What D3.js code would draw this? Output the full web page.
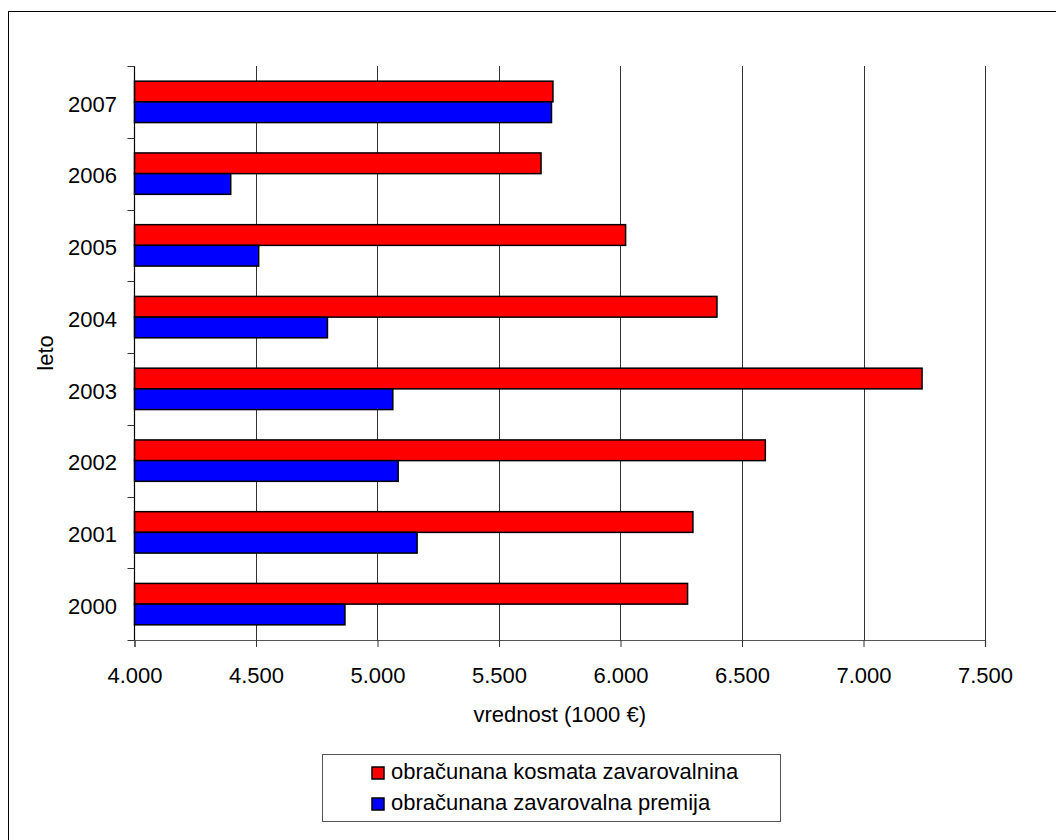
<!DOCTYPE html>
<html>
<head>
<meta charset="utf-8">
<script src="https://cdn.jsdelivr.net/npm/d3@7"></script>
<style>
  html, body { margin: 0; padding: 0; background: #fff; }
  svg { display: block; }
  text { font-family: "Liberation Sans", Arial, sans-serif; fill: #000; }
</style>
</head>
<body>
<svg id="chart" width="1056" height="840"></svg>
<script>
// ---- data ----
const years = ["2000", "2001", "2002", "2003", "2004", "2005", "2006", "2007"];
const seriesNames = ["obračunana kosmata zavarovalnina", "obračunana zavarovalna premija"];
const seriesColors = ["#ff0000", "#0000ff"];
const kosmata = [6276, 6298, 6596, 7241, 6397, 6021, 5673, 5722];
const premija = [4866, 5163, 5085, 5063, 4794, 4511, 4396, 5716];
const xTicks = [4000, 4500, 5000, 5500, 6000, 6500, 7000, 7500];
const xTitle = "vrednost (1000 €)";
const yTitle = "leto";

// ---- layout ----
const svg = d3.select("#chart");
const pLeft = 134.5, pRight = 985, pTop = 66, pBottom = 640;

const locale = d3.formatLocale({decimal: ",", thousands: ".", grouping: [3], currency: ["", "€"]});
const fmt = locale.format(",d");

const x = d3.scaleLinear().domain([4000, 7500]).range([pLeft, pRight]);
const y0 = d3.scaleBand().domain(years.slice().reverse()).range([pTop, pBottom]).paddingInner(0).paddingOuter(0);
const y1 = d3.scaleBand().domain([0, 1]).range([0, y0.bandwidth()]).paddingInner(0).paddingOuter(0.733);

const values = [kosmata, premija];

// outer frame
svg.append("rect")
  .attr("x", 8.5).attr("y", 11.5)
  .attr("width", 1100).attr("height", 900)
  .attr("fill", "#fff").attr("stroke", "#000").attr("stroke-width", 1);

// gridlines
svg.append("g").selectAll("line")
  .data(xTicks.slice(1))
  .join("line")
  .attr("x1", d => Math.round(x(d)) + 0.5)
  .attr("x2", d => Math.round(x(d)) + 0.5)
  .attr("y1", pTop).attr("y2", pBottom)
  .attr("stroke", "#333").attr("stroke-width", 1);

// bars
const groups = svg.append("g").selectAll("g")
  .data(years)
  .join("g")
  .attr("transform", d => `translate(0,${y0(d)})`);

groups.selectAll("rect")
  .data((d, i) => values.map((s, k) => ({k, v: s[i]})))
  .join("rect")
  .attr("x", x(4000))
  .attr("y", d => y1(d.k))
  .attr("width", d => x(d.v) - x(4000))
  .attr("height", y1.bandwidth())
  .attr("fill", d => seriesColors[d.k])
  .attr("stroke", "#000")
  .attr("stroke-width", 1.5);

// x axis
const xAxis = d3.axisBottom(x).tickValues(xTicks).tickFormat(fmt).tickSize(7).tickPadding(20);
const gx = svg.append("g").attr("transform", `translate(0,${pBottom})`).call(xAxis);
gx.select(".domain").attr("stroke", "#555").attr("stroke-width", 1.2);
gx.selectAll(".tick line").attr("stroke", "#333");
gx.selectAll(".tick text").style("font-size", "22px").style("font-family", "Liberation Sans, Arial, sans-serif").attr("fill", "#000");

// y axis: ticks at band boundaries
const gy = svg.append("g");
gy.append("line")
  .attr("x1", pLeft).attr("x2", pLeft)
  .attr("y1", pTop).attr("y2", pBottom)
  .attr("stroke", "#000").attr("stroke-width", 1.2);
const boundaries = years.map(d => y0(d)).concat([pBottom]);
gy.selectAll("line.tk")
  .data(boundaries)
  .join("line").attr("class", "tk")
  .attr("x1", pLeft - 7).attr("x2", pLeft)
  .attr("y1", d => Math.round(d) + 0.5).attr("y2", d => Math.round(d) + 0.5)
  .attr("stroke", "#333");
gy.selectAll("text")
  .data(years)
  .join("text")
  .attr("x", 117)
  .attr("y", d => y0(d) + y0.bandwidth() / 2 + 2)
  .attr("dy", "0.35em")
  .attr("text-anchor", "end")
  .style("font-size", "22px")
  .text(d => d);

// axis titles
svg.append("text")
  .attr("x", (pLeft + pRight) / 2)
  .attr("y", 722)
  .attr("text-anchor", "middle")
  .style("font-size", "22px")
  .text(xTitle);

svg.append("text")
  .attr("transform", `translate(53,${(pTop + pBottom) / 2}) rotate(-90)`)
  .attr("text-anchor", "middle")
  .style("font-size", "22px")
  .text(yTitle);

// legend
const lg = svg.append("g");
lg.append("rect")
  .attr("x", 322.5).attr("y", 754.5)
  .attr("width", 458).attr("height", 67)
  .attr("fill", "#fff").attr("stroke", "#555").attr("stroke-width", 1);
const items = lg.selectAll("g.item")
  .data(seriesNames)
  .join("g").attr("class", "item")
  .attr("transform", (d, i) => `translate(372,${767 + i * 31})`);
items.append("rect")
  .attr("x", 0).attr("y", 0).attr("width", 12).attr("height", 12)
  .attr("fill", (d, i) => seriesColors[i])
  .attr("stroke", "#000").attr("stroke-width", 1.5);
items.append("text")
  .attr("x", 19).attr("y", 12)
  .style("font-size", "22px")
  .text(d => d);
</script>
</body>
</html>
